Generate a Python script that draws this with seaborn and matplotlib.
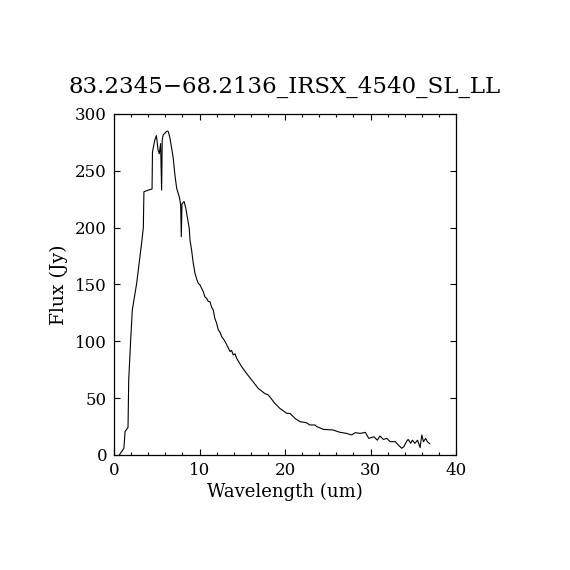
import matplotlib
matplotlib.use("Agg")
import matplotlib.pyplot as plt
import seaborn as sns
import pandas as pd
from matplotlib.ticker import MultipleLocator

title = "83.2345\u221268.2136_IRSX_4540_SL_LL"
xlabel = "Wavelength (um)"
ylabel = "Flux (Jy)"

wavelength = [0.62, 1.16, 1.29, 1.64, 1.72, 1.95, 2.14, 2.65, 3.23, 3.43, 3.5, 4.0, 4.45,
              4.5, 4.77, 4.96, 5.16, 5.3, 5.45, 5.57, 5.64, 5.75, 6.07, 6.22, 6.35, 6.55,
              6.74, 6.93, 7.13, 7.33, 7.64, 7.8, 7.87, 7.95, 8.2, 8.4, 8.8, 8.89, 9.08,
              9.27, 9.47, 9.66, 9.86, 10.06, 10.25, 10.44, 10.64, 10.83, 11.03, 11.22,
              11.42, 11.6, 11.8, 12.0, 12.2, 12.4, 12.6, 12.9, 13.18, 13.57, 13.75, 13.95,
              14.15, 14.35, 14.93, 15.5, 16.1, 16.87, 17.65, 18.0, 18.25, 18.8, 19.4,
              20.2, 20.6, 21.2, 21.75, 22.5, 22.9, 23.5, 23.7, 24.5, 25.6, 26.4, 27.2,
              27.8, 28.2, 28.8, 29.4, 29.8, 30.4, 30.8, 31.1, 31.5, 31.9, 32.3, 32.9,
              33.25, 33.65, 33.9, 34.2, 34.4, 34.7, 34.9, 35.2, 35.5, 35.8, 36.0, 36.2,
              36.45, 36.65, 36.95]
flux = [0, 5.9, 20.5, 24.3, 66, 101, 127.5, 151, 186.5, 200, 231.6, 233, 234,
        266.8, 277, 281, 268, 265, 274, 233, 277, 281.5, 284, 285, 284.5, 278.6,
        270, 261, 246, 234.6, 227, 220, 192, 221, 223, 217, 199.5, 189, 180,
        168.6, 160, 155, 151, 149.6, 146.6, 143.7, 139, 137.9, 135, 134.9,
        130, 127.6, 120, 116, 110, 108, 104, 101, 97, 91, 92, 88,
        89, 85, 77.7, 71.8, 66, 58.6, 54, 53, 51, 45.5, 41,
        36.7, 36.5, 32, 29.3, 28.4, 26.4, 26.4, 25, 22.5, 22, 20, 19,
        17.6, 19.6, 19, 19.9, 14.6, 16, 13, 16.7, 13.7, 14.6, 11.7, 11.7,
        8.8, 5.9, 7.3, 11.7, 13.7, 10.3, 13, 10.3, 13, 6.5, 17.6, 11.7,
        14.6, 11.7, 9.7]

df = pd.DataFrame({"wavelength": wavelength, "flux": flux})

sns.set_style("ticks")
plt.rcParams["font.family"] = ["DejaVu Serif"]
plt.rcParams["text.color"] = "black"
plt.rcParams["axes.labelcolor"] = "black"

fig = plt.figure(figsize=(5.7, 5.7), dpi=100)
fig.subplots_adjust(left=0.2, right=0.8, top=0.8, bottom=0.2018)
ax = fig.add_subplot(111)

sns.lineplot(data=df, x="wavelength", y="flux", sort=False, estimator=None,
             color="black", linewidth=0.8, ax=ax)

ax.set_xlim(0, 40)
ax.set_ylim(0, 300)
ax.xaxis.set_major_locator(MultipleLocator(10))
ax.xaxis.set_minor_locator(MultipleLocator(2))
ax.yaxis.set_major_locator(MultipleLocator(50))
ax.tick_params(which="both", direction="in", top=True, right=True, colors="black",
               width=0.8, labelsize=12)
ax.tick_params(which="major", length=4.5, pad=5)
ax.tick_params(which="minor", length=2.3)
for s in ax.spines.values():
    s.set_visible(True)
    s.set_color("black")
    s.set_linewidth(0.9)

ax.set_xlabel(xlabel, fontsize=13, labelpad=3, color="black")
ax.set_ylabel(ylabel, fontsize=13.5, labelpad=5, color="black")
ax.set_title(title, fontsize=16.5, pad=15, color="black")

fig.savefig("out.png", dpi=100, facecolor="white")
